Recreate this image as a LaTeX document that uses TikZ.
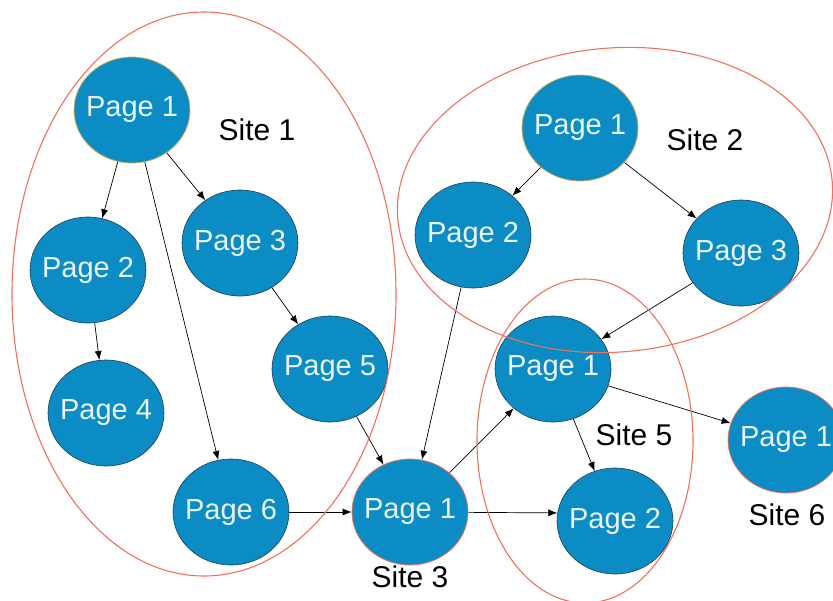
\documentclass[tikz,border=0pt]{standalone}
\usepackage{fontspec}
\setmainfont{Liberation Sans}
\usetikzlibrary{arrows.meta,shapes.geometric}
\definecolor{pagefill}{RGB}{12,140,196}
\definecolor{pageedge}{RGB}{30,62,84}
\definecolor{siteline}{RGB}{242,112,92}
\definecolor{goldedge}{RGB}{214,176,80}
\definecolor{pagetext}{RGB}{235,246,252}
\newcommand{\pagelabel}[1]{\makebox[0pt][c]{Page #1}}
\tikzset{
  page/.style={ellipse,fill=pagefill,draw=pageedge,line width=0.6pt,inner sep=0pt,
    minimum width=116pt,minimum height=106pt,
    text=pagetext,font=\fontsize{29}{31}\selectfont},
  root/.style={page,draw=goldedge,line width=0.8pt},
  redroot/.style={page,draw=siteline,line width=0.8pt},
  site/.style={draw=siteline,line width=1.1pt},
  sitelabel/.style={font=\fontsize{30}{32}\selectfont,text=black,inner sep=0pt},
  link/.style={draw=black,line width=0.7pt,-{Latex[length=9pt,width=7pt]}}
}
\begin{document}
\begin{tikzpicture}[x=1pt,y=-1pt]
\useasboundingbox (0,0) rectangle (833,600);
\clip (0,0) rectangle (833,600);
% Site 1
\node[root] (a1) at (132,110) {\pagelabel{1}};
\node[page] (a2) at (88,270) {\pagelabel{2}};
\node[page] (a3) at (240,243) {\pagelabel{3}};
\node[page] (a4) at (106,413) {\pagelabel{4}};
\node[page] (a5) at (330,369) {\pagelabel{5}};
\node[page] (a6) at (231,512) {\pagelabel{6}};
% Site 3
\node[redroot] (c1) at (410,512) {\pagelabel{1}};
% Site 2
\node[root] (b1) at (580,128) {\pagelabel{1}};
\node[page] (b2) at (473,235) {\pagelabel{2}};
\node[page] (b3) at (741,253) {\pagelabel{3}};
% Site 5
\node[page] (e1) at (553,369) {\pagelabel{1}};
\node[page] (e2) at (615,521) {\pagelabel{2}};
% Site 6
\node[redroot] (f1) at (786,440) {\pagelabel{1}};
% labels
\node[sitelabel] (l1) at (257,130) {Site 1};
\node[sitelabel] (l2) at (705,140) {Site 2};
\node[sitelabel] (l3) at (410,577) {Site 3};
\node[sitelabel] (l5) at (634,435) {Site 5};
\node[sitelabel] (l6) at (787,515) {Site 6};
% links
\draw[link] (a1) -- (a2);
\draw[link] (a1) -- (a3);
\draw[link] (a1) -- (a6);
\draw[link] (a2) -- (a4);
\draw[link] (a3) -- (a5);
\draw[link] (a5) -- (c1);
\draw[link] (a6) -- (c1);
\draw[link] (b2) -- (c1);
\draw[link] (c1) -- (e1);
\draw[link] (c1) -- (e2.172);
\draw[link] (b1) -- (b2);
\draw[link] (b1) -- (b3);
\draw[link] (b3) -- (e1);
\draw[link] (e1) -- (e2);
\draw[link] (e1) -- (f1);
% site outlines
\draw[site] (204,294) ellipse [x radius=192, y radius=282];
\draw[site,rotate around={5:(615,200)}] (615,200) ellipse [x radius=218, y radius=152];
\draw[site] (585,441) ellipse [x radius=108, y radius=162];
\end{tikzpicture}
\end{document}
